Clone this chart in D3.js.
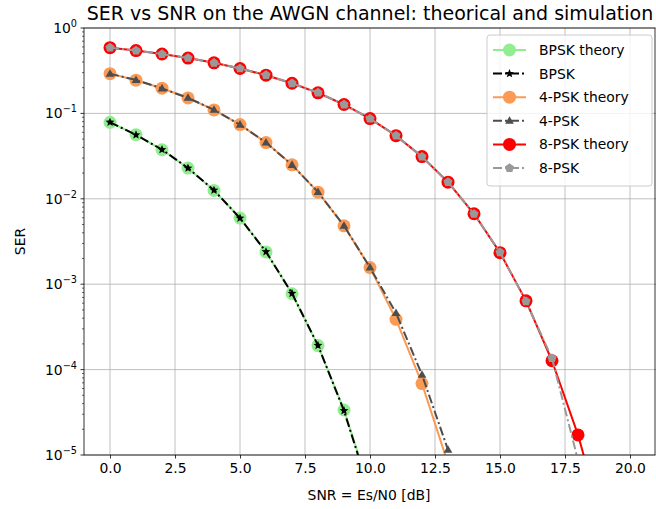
<!DOCTYPE html>
<html>
<head>
<meta charset="utf-8">
<script src="https://cdn.jsdelivr.net/npm/d3@7"></script>
<style>
  html, body { margin: 0; padding: 0; background: #fff; }
  svg { display: block; font-family: "DejaVu Sans", sans-serif; }
</style>
</head>
<body>
<svg id="chart" width="656" height="509"></svg>
<script>
// SNR grid in dB
const snr = [0, 1, 2, 3, 4, 5, 6, 7, 8, 9, 10, 11, 12, 13, 14, 15, 16, 17, 18, 19, 20];

// Symbol error rates (null = not plotted)
const bpskTheory = [7.865e-2, 5.628e-2, 3.751e-2, 2.288e-2, 1.250e-2, 5.954e-3, 2.388e-3, 7.727e-4, 1.909e-4, 3.362e-5, 3.872e-6];
const bpskSim    = [7.87e-2, 5.61e-2, 3.77e-2, 2.29e-2, 1.26e-2, 5.93e-3, 2.40e-3, 7.80e-4, 1.92e-4, 3.30e-5, 3.60e-6];
const psk4Theory = [0.2921, 0.2447, 0.1972, 0.1516, 0.1098, 0.0740, 0.0455, 0.0250, 1.197e-2, 4.820e-3, 1.565e-3, 3.88e-4, 6.86e-5, 7.94e-6];
const psk4Sim    = [0.2910, 0.2460, 0.1960, 0.1520, 0.1100, 0.0738, 0.0456, 0.0249, 1.200e-2, 4.830e-3, 1.570e-3, 4.60e-4, 8.70e-5, 1.15e-5];
const psk8Theory = [0.5884, 0.5438, 0.4957, 0.4446, 0.3910, 0.3358, 0.2802, 0.2256, 0.1740, 0.1272, 0.0870, 0.0548, 0.0312, 1.564e-2, 6.68e-3, 2.34e-3, 6.38e-4, 1.27e-4, 1.72e-5, 1.41e-6];
const psk8Sim    = [0.5890, 0.5450, 0.4940, 0.4460, 0.3900, 0.3360, 0.2810, 0.2250, 0.1750, 0.1270, 0.0868, 0.0550, 0.0311, 1.570e-2, 6.65e-3, 2.36e-3, 6.30e-4, 1.36e-4, 8.70e-6];

const yTicks = [1e0, 1e-1, 1e-2, 1e-3, 1e-4, 1e-5];
const yTickExp = ["0", "−1", "−2", "−3", "−4", "−5"];
const xTicks = [0, 2.5, 5, 7.5, 10, 12.5, 15, 17.5, 20];

const series = [
  { name: "BPSK theory",  values: bpskTheory, color: "#90ee90", width: 2, dash: null,      marker: "circle",   mcolor: "#90ee90", msize: 6.5 },
  { name: "BPSK",         values: bpskSim,    color: "#000000", width: 2, dash: "9,3,2,3", marker: "star",     mcolor: "#000000", msize: 4.6 },
  { name: "4-PSK theory", values: psk4Theory, color: "#fb9a55", width: 2, dash: null,      marker: "circle",   mcolor: "#fb9a55", msize: 6.5 },
  { name: "4-PSK",        values: psk4Sim,    color: "#4d4d4d", width: 2, dash: "9,3,2,3", marker: "triangle", mcolor: "#4d4d4d", msize: 4.6 },
  { name: "8-PSK theory", values: psk8Theory, color: "#ff0000", width: 2, dash: null,      marker: "circle",   mcolor: "#ff0000", msize: 6.5 },
  { name: "8-PSK",        values: psk8Sim,    color: "#999999", width: 2, dash: "9,3,2,3", marker: "pentagon", mcolor: "#999999", msize: 4.8 }
];

const svg = d3.select("#chart");
const plot = { left: 84, right: 656, top: 28, bottom: 455 };

const xExt = d3.extent(snr);
const pad = (xExt[1] - xExt[0]) * 0.05;
const x = d3.scaleLinear().domain([xExt[0] - pad, xExt[1] + pad]).range([plot.left, plot.right]);
const y = d3.scaleLog().domain([1e-5, 1]).range([plot.bottom, plot.top]);

svg.append("defs").append("clipPath").attr("id", "clip")
  .append("rect").attr("x", plot.left).attr("y", plot.top)
  .attr("width", plot.right - plot.left).attr("height", plot.bottom - plot.top);

// grid
const grid = svg.append("g");
grid.selectAll("line.gx").data(xTicks).join("line")
  .attr("x1", d => x(d)).attr("x2", d => x(d))
  .attr("y1", plot.top).attr("y2", plot.bottom)
  .attr("stroke", "#b0b0b0").attr("stroke-width", 0.8);
grid.selectAll("line.gy").data(yTicks).join("line")
  .attr("x1", plot.left).attr("x2", plot.right)
  .attr("y1", d => y(d)).attr("y2", d => y(d))
  .attr("stroke", "#b0b0b0").attr("stroke-width", 0.8);

// marker shapes
const sym = {
  circle: r => d3.symbol(d3.symbolCircle, Math.PI * r * r)(),
  star: r => {
    const pts = d3.range(10).map(i => {
      const a = -Math.PI / 2 + i * Math.PI / 5;
      const rr = i % 2 ? r * 0.45 : r;
      return [rr * Math.cos(a), rr * Math.sin(a)];
    });
    return "M" + pts.map(p => p.join(",")).join("L") + "Z";
  },
  triangle: r => `M0,${-r}L${r * 0.95},${r * 0.65}L${-r * 0.95},${r * 0.65}Z`,
  pentagon: r => {
    const pts = d3.range(5).map(i => {
      const a = -Math.PI / 2 + i * 2 * Math.PI / 5;
      return [r * Math.cos(a), r * Math.sin(a)];
    });
    return "M" + pts.map(p => p.join(",")).join("L") + "Z";
  }
};

const line = d3.line()
  .defined(d => d[1] != null)
  .x(d => x(d[0])).y(d => y(d[1]));

const marks = svg.append("g").attr("clip-path", "url(#clip)");
series.forEach(s => {
  const pts = snr.map((v, i) => [v, s.values[i] == null ? null : s.values[i]]).filter(d => d[1] != null);
  const g = marks.append("g");
  g.append("path").datum(pts)
    .attr("d", line)
    .attr("fill", "none")
    .attr("stroke", s.color)
    .attr("stroke-width", s.width)
    .attr("stroke-dasharray", s.dash)
    .attr("stroke-linejoin", "round");
  g.selectAll("path.m").data(pts).join("path")
    .attr("class", "m")
    .attr("transform", d => `translate(${x(d[0])},${y(d[1])})`)
    .attr("d", sym[s.marker](s.msize))
    .attr("fill", s.mcolor);
});

// axes
const xAxis = d3.axisBottom(x).tickValues(xTicks).tickFormat(d3.format(".1f")).tickSize(3.5).tickPadding(5);
const gx = svg.append("g").attr("transform", `translate(0,${plot.bottom})`).call(xAxis);
gx.select(".domain").remove();
gx.selectAll("line").attr("stroke", "#000").attr("stroke-width", 0.8);
gx.selectAll("text").attr("font-size", 13.9).attr("fill", "#000").attr("font-family", "DejaVu Sans");

// y major ticks with superscript labels
const gy = svg.append("g");
gy.selectAll("line.maj").data(yTicks).join("line")
  .attr("x1", plot.left - 3.5).attr("x2", plot.left)
  .attr("y1", d => y(d)).attr("y2", d => y(d))
  .attr("stroke", "#000").attr("stroke-width", 0.8);
const minor = [];
for (let e = -5; e < 0; e++) for (let m = 2; m <= 9; m++) minor.push(m * Math.pow(10, e));
gy.selectAll("line.min").data(minor).join("line")
  .attr("x1", plot.left - 2).attr("x2", plot.left)
  .attr("y1", d => y(d)).attr("y2", d => y(d))
  .attr("stroke", "#000").attr("stroke-width", 0.6);
const yl = gy.selectAll("text").data(yTicks).join("text")
  .attr("x", plot.left - 7).attr("y", d => y(d) + 5)
  .attr("text-anchor", "end").attr("font-size", 13.9).attr("fill", "#000");
yl.append("tspan").text("10");
yl.append("tspan").attr("dy", -6).attr("font-size", 9.7).text((d, i) => yTickExp[i]);

// frame
svg.append("rect")
  .attr("x", plot.left).attr("y", plot.top)
  .attr("width", plot.right - plot.left - 1).attr("height", plot.bottom - plot.top)
  .attr("fill", "none").attr("stroke", "#000").attr("stroke-width", 0.8);

// labels
svg.append("text").attr("x", (plot.left + plot.right) / 2).attr("y", 20)
  .attr("text-anchor", "middle").attr("font-size", 19).attr("fill", "#000")
  .text("SER vs SNR on the AWGN channel: theorical and simulation");
svg.append("text").attr("x", (plot.left + plot.right) / 2 - 1).attr("y", 500)
  .attr("text-anchor", "middle").attr("font-size", 13.9).attr("fill", "#000")
  .text("SNR = Es/N0 [dB]");
svg.append("text")
  .attr("transform", `translate(25,${(plot.top + plot.bottom) / 2}) rotate(-90)`)
  .attr("text-anchor", "middle").attr("font-size", 13.9).attr("fill", "#000")
  .text("SER");

// legend
const lg = svg.append("g").attr("transform", "translate(487,35)");
lg.append("rect").attr("width", 165).attr("height", 151).attr("rx", 3)
  .attr("fill", "#fff").attr("fill-opacity", 0.8)
  .attr("stroke", "#cccccc").attr("stroke-width", 1);
series.forEach((s, i) => {
  const row = lg.append("g").attr("transform", `translate(0,${15 + i * 23.6})`);
  row.append("line").attr("x1", 6).attr("x2", 39).attr("y1", 0).attr("y2", 0)
    .attr("stroke", s.color).attr("stroke-width", s.width)
    .attr("stroke-dasharray", s.dash);
  row.append("path").attr("transform", "translate(22.5,0)")
    .attr("d", sym[s.marker](s.msize)).attr("fill", s.mcolor);
  row.append("text").attr("x", 52).attr("y", 5)
    .attr("font-size", 13.9).attr("fill", "#000").text(s.name);
});
</script>
</body>
</html>
